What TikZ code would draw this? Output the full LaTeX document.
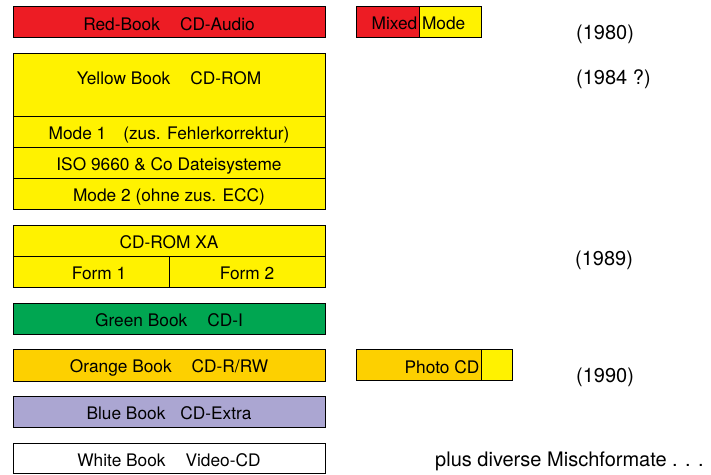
\documentclass[tikz,border=0pt]{standalone}
\usepackage{fontspec}
\setmainfont{TeX Gyre Heros}
\definecolor{cdred}{HTML}{ED1C24}
\definecolor{cdyellow}{HTML}{FFF200}
\definecolor{cdgreen}{HTML}{00A651}
\definecolor{cdorange}{HTML}{FDD000}
\definecolor{cdblue}{HTML}{ABA6D2}
\begin{document}
\begin{tikzpicture}[x=1pt,y=-1pt,
  box/.style={draw=black,line width=0.9pt},
  lbl/.style={anchor=base,inner sep=0pt,font=\fontsize{17.3}{20}\selectfont},
  yr/.style={anchor=base west,inner sep=0pt,font=\fontsize{20}{24}\selectfont}]
\useasboundingbox (0,0) rectangle (711,474);
% left column
\draw[box,fill=cdred] (13,6) rectangle (325,37);
\draw[box,fill=cdyellow] (13,53) rectangle (325,209);
\draw[box] (13,116) -- (325,116);
\draw[box] (13,147) -- (325,147);
\draw[box] (13,178) -- (325,178);
\draw[box,fill=cdyellow] (13,225) rectangle (325,287);
\draw[box] (13,256) -- (325,256);
\draw[box] (169,256) -- (169,287);
\draw[box,fill=cdgreen] (13,303) rectangle (325,334);
\draw[box,fill=cdorange] (13,349) rectangle (325,381);
\draw[box,fill=cdblue] (13,396) rectangle (325,427);
\draw[box,fill=white] (13,443) rectangle (325,473.4);
% right boxes
\draw[box,fill=cdred] (356,6) rectangle (419,37);
\draw[box,fill=cdyellow] (419,6) rectangle (481,37);
\draw[box,fill=cdorange] (356,349) rectangle (481,380);
\draw[box,fill=cdyellow] (481,349) rectangle (512,380);
% labels
\node[lbl] (tred) at (169,30) {Red-Book\hspace{20pt}CD-Audio};
\node[lbl] (tyel) at (169,84) {Yellow Book\hspace{20pt}CD-ROM};
\node[lbl] (tm1) at (169,139.5) {Mode 1\hspace{17pt}(zus. Fehlerkorrektur)};
\node[lbl] (tiso) at (169,170.5) {ISO 9660 \& Co Dateisysteme};
\node[lbl] (tm2) at (169,201.5) {Mode 2 (ohne zus. ECC)};
\node[lbl] (txa) at (169,248) {CD-ROM XA};
\node[lbl] (tf1) at (99,279) {Form 1};
\node[lbl] (tf2) at (247,279) {Form 2};
\node[lbl] (tgreen) at (169,326) {Green Book\hspace{20pt}CD-I};
\node[lbl] (torange) at (169,372.5) {Orange Book\hspace{20pt}CD-R/RW};
\node[lbl] (tblue) at (169,419) {Blue Book\hspace{15pt}CD-Extra};
\node[lbl] (twhite) at (169,466) {White Book\hspace{20pt}Video-CD};
\node[lbl] (tmixed) at (418.5,29.5) {Mixed Mode};
\node[lbl,anchor=base east] (tphoto) at (479.5,373) {Photo CD};
% years
\node[yr] (y80) at (576,39) {(1980)};
\node[yr] (y84) at (576,84) {(1984 ?)};
\node[yr] (y89) at (575,265) {(1989)};
\node[yr] (y90) at (576,382) {(1990)};
\node[yr] (plus) at (435,466) {plus diverse Mischformate . . .};
\end{tikzpicture}
\end{document}
